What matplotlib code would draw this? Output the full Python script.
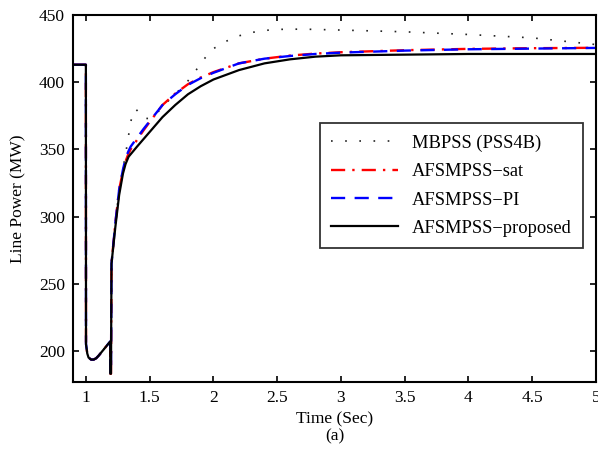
import matplotlib
matplotlib.use("Agg")
import matplotlib.pyplot as plt
import numpy as np

plt.rcParams['font.family'] = ['Liberation Serif', 'DejaVu Serif']
plt.rcParams['mathtext.fontset'] = 'stix'

# Common segment (pre-fault, fault and clearing) shared by all controllers
t_common = [0.9, 0.999, 1.0, 1.01, 1.02, 1.04, 1.06, 1.08, 1.10, 1.13, 1.16, 1.19, 1.191, 1.196]
p_common = [413, 413, 205, 198, 195, 193.5, 193.5, 194.5, 196.5, 200, 203.5, 207, 183, 183]

# Post-fault recovery
t_mb = [1.20, 1.23, 1.26, 1.29, 1.31, 1.33, 1.35, 1.37, 1.39, 1.42, 1.45, 1.50, 1.55, 1.60, 1.70,
        1.80, 1.85, 1.90, 1.95, 2.00, 2.10, 2.20, 2.30, 2.40, 2.50, 2.70, 3.00, 3.50, 4.00, 4.50, 5.00]
p_mb = [265, 295, 320, 336, 346, 358, 370, 378, 380, 377, 373, 373, 376, 382, 391,
        401, 407, 414, 420, 425, 430.5, 434.5, 437, 438.5, 439.3, 439.5, 438.8, 437.5, 435.5, 433, 428]

t_sat = [1.20, 1.23, 1.26, 1.29, 1.31, 1.33, 1.35, 1.40, 1.45, 1.50, 1.60, 1.70, 1.80, 1.90,
         2.00, 2.20, 2.40, 2.60, 2.80, 3.00, 3.50, 4.00, 4.50, 5.00]
p_sat = [265, 295, 320, 334, 341, 346, 350, 357, 364, 370.5, 383, 391.5, 398.5, 403.5,
         407.5, 414, 417.5, 419.8, 421.3, 422.3, 423.8, 424.8, 425.3, 425.6]

t_pi = [1.20, 1.23, 1.26, 1.29, 1.31, 1.33, 1.35, 1.40, 1.45, 1.50, 1.60, 1.70, 1.80, 1.90,
        2.00, 2.20, 2.40, 2.60, 2.80, 3.00, 3.50, 4.00, 4.50, 5.00]
p_pi = [265, 295, 320, 335, 343, 348, 352, 358.5, 365, 371, 383, 391, 398, 403,
        407, 414, 417.5, 419.5, 421, 422, 423.5, 424.5, 425, 425.5]

t_prop = [1.20, 1.23, 1.26, 1.29, 1.31, 1.334, 1.40, 1.50, 1.60, 1.70, 1.80, 1.90,
          2.00, 2.20, 2.40, 2.60, 2.80, 3.00, 3.50, 4.00, 4.50, 5.00]
p_prop = [265, 292, 316, 332, 339, 344.5, 352, 363, 374, 383, 391, 397,
          402, 409, 414, 417, 419, 420, 420.5, 421, 421, 421]

labels = ['MBPSS (PSS4B)', 'AFSMPSS\u2212sat', 'AFSMPSS\u2212PI', 'AFSMPSS\u2212proposed']

x_ticks = [1, 1.5, 2, 2.5, 3, 3.5, 4, 4.5, 5]
x_ticklabels = ['1', '1.5', '2', '2.5', '3', '3.5', '4', '4.5', '5']
y_ticks = [200, 250, 300, 350, 400, 450]

fig = plt.figure(figsize=(5.98, 4.55), dpi=100)
ax = fig.add_axes([0.1225, 0.161, 0.874, 0.806])

ax.plot(t_common + t_mb, p_common + p_mb, color='#222222', lw=1.2,
        linestyle=(0, (1, 7.5)), label=labels[0])
ax.plot(t_common + t_sat, p_common + p_sat, color='#ff0000', lw=1.7,
        linestyle=(0, (6, 3, 1, 3)), label=labels[1])
ax.plot(t_common + t_pi, p_common + p_pi, color='#0000ff', lw=1.7,
        linestyle=(0, (6, 4)), label=labels[2])
ax.plot(t_common + t_prop, p_common + p_prop, color='black', lw=1.6,
        linestyle='-', label=labels[3])

ax.set_xlim(0.9, 5.0)
ax.set_ylim(177, 450)
ax.set_xticks(x_ticks)
ax.set_xticklabels(x_ticklabels)
ax.set_yticks(y_ticks)
ax.tick_params(direction='in', top=True, right=True, length=4, width=1.2,
               labelsize=12.5, pad=6)
for s in ax.spines.values():
    s.set_linewidth(1.5)

ax.set_xlabel('Time (Sec)\n(a)', fontsize=12.5, labelpad=4, linespacing=1.1)
ax.set_ylabel('Line Power (MW)', fontsize=12.5, labelpad=9)

leg = ax.legend(loc='upper left', bbox_to_anchor=(0.4727, 0.705), fontsize=13.3,
                frameon=True, fancybox=False, edgecolor='black', handlelength=3.6,
                handletextpad=0.75, borderpad=0.6, labelspacing=0.62, borderaxespad=0)
leg.get_frame().set_linewidth(1.3)

fig.savefig('out.png', dpi=100)
